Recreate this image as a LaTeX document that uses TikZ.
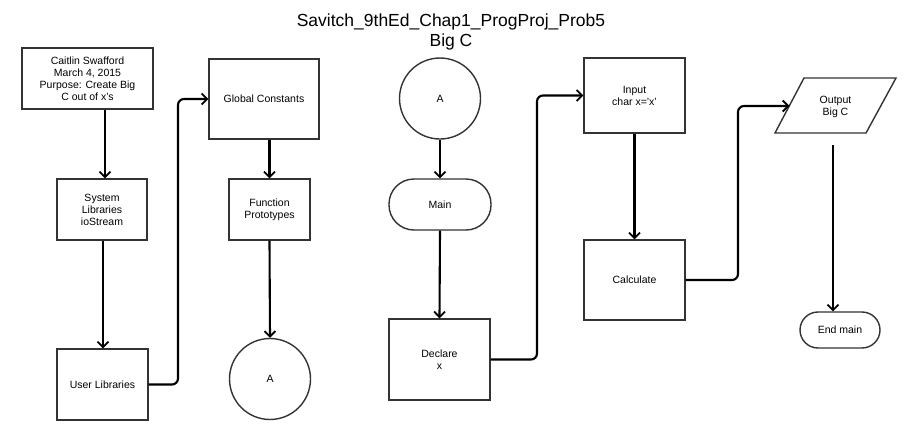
\documentclass[tikz,border=0pt]{standalone}
\usepackage{fontspec}
\setmainfont{Liberation Sans}
\usetikzlibrary{arrows.meta}
\begin{document}
\begin{tikzpicture}[x=1pt,y=-1pt,
  box/.style={draw=black!80, line width=1.4pt, fill=white, align=center, inner sep=1pt,
    font=\fontsize{10.5}{12}\selectfont},
  termbox/.style={box, rounded corners=#1},
  circ/.style={draw=black!80, line width=1.4pt, circle, align=center, inner sep=0pt,
    font=\fontsize{10.5}{12}\selectfont},
  conn/.style={draw=black, line width=2.1pt, -{Straight Barb[length=5.5pt,width=11pt,line width=1.8pt]}},
  elbowconn/.style={conn, rounded corners=6pt}
]
\useasboundingbox (0,0) rectangle (906,440);
\fill[white] (0,0) rectangle (906,440);

\node[font=\fontsize{17.5}{20}\selectfont, align=center] (title) at (451,32)
  {Savitch\_9thEd\_Chap1\_ProgProj\_Prob5\\Big C};

\node[box, minimum width=131pt, minimum height=61pt] (cait) at (87.5,78.5)
  {Caitlin Swafford\\March 4, 2015\\Purpose: Create Big\\C out of x's};
\node[box, minimum width=90pt, minimum height=61pt] (sys) at (102,209.5)
  {System\\Libraries\\ioStream};
\node[box, minimum width=91pt, minimum height=71pt] (usr) at (102.5,384.5)
  {User Libraries};

\node[box, minimum width=110pt, minimum height=80pt] (glob) at (264,99)
  {Global Constants};
\node[box, minimum width=81pt, minimum height=61pt] (func) at (269.5,209.5)
  {Function\\Prototypes};
\node[circ, minimum size=81pt] (a1) at (270,379) {A};

\node[circ, minimum size=81pt] (a2) at (440,98.5) {A};
\node[termbox=25pt, minimum width=102pt, minimum height=51pt] (main) at (440,204.5) {Main};
\node[box, minimum width=101pt, minimum height=81pt] (decl) at (439.5,359.5) {Declare\\x};

\node[box, minimum width=101pt, minimum height=75pt] (inp) at (634.5,95.5) {Input\\char x='x'};
\node[box, minimum width=101pt, minimum height=80pt] (calc) at (634.5,280) {Calculate};

\coordinate (p1) at (804,78);
\coordinate (p2) at (896,78);
\coordinate (p3) at (866,133);
\coordinate (p4) at (775,133);
\draw[draw=black!80, line width=1.4pt, line join=miter] (p1) -- (p2) -- (p3) -- (p4) -- cycle;
\node[align=center, font=\fontsize{10.5}{12}\selectfont] (out) at (835.5,107) {Output\\Big C};
\coordinate (outL) at (789.5,106);
\coordinate (outS) at (833,145);

\node[termbox=18pt, minimum width=80pt, minimum height=36pt] (endm) at (840,330) {End main};

% connectors
\draw[conn] (cait.south -| 105,0) -- (sys.north -| 105,0);
\draw[conn] (sys.south -| 103,0) -- (usr.north -| 103,0);
\draw[elbowconn] (usr.east) -- (178,384.5) |- (glob.west);
\draw[conn] (glob.south -| func.north) -- (func.north);
\draw[conn] (func.south) -- (a1.north);
\draw[conn] (a2.south) -- (main.north);
\draw[conn] (main.south) -- (decl.north);
\draw[elbowconn] (decl.east) -- (537,359.5) |- (inp.west);
\draw[conn] (inp.south) -- (calc.north);
\draw[elbowconn] (calc.east) -- (738,280) |- (outL);
\draw[conn] (outS) -- (outS |- endm.north);
\end{tikzpicture}
\end{document}
